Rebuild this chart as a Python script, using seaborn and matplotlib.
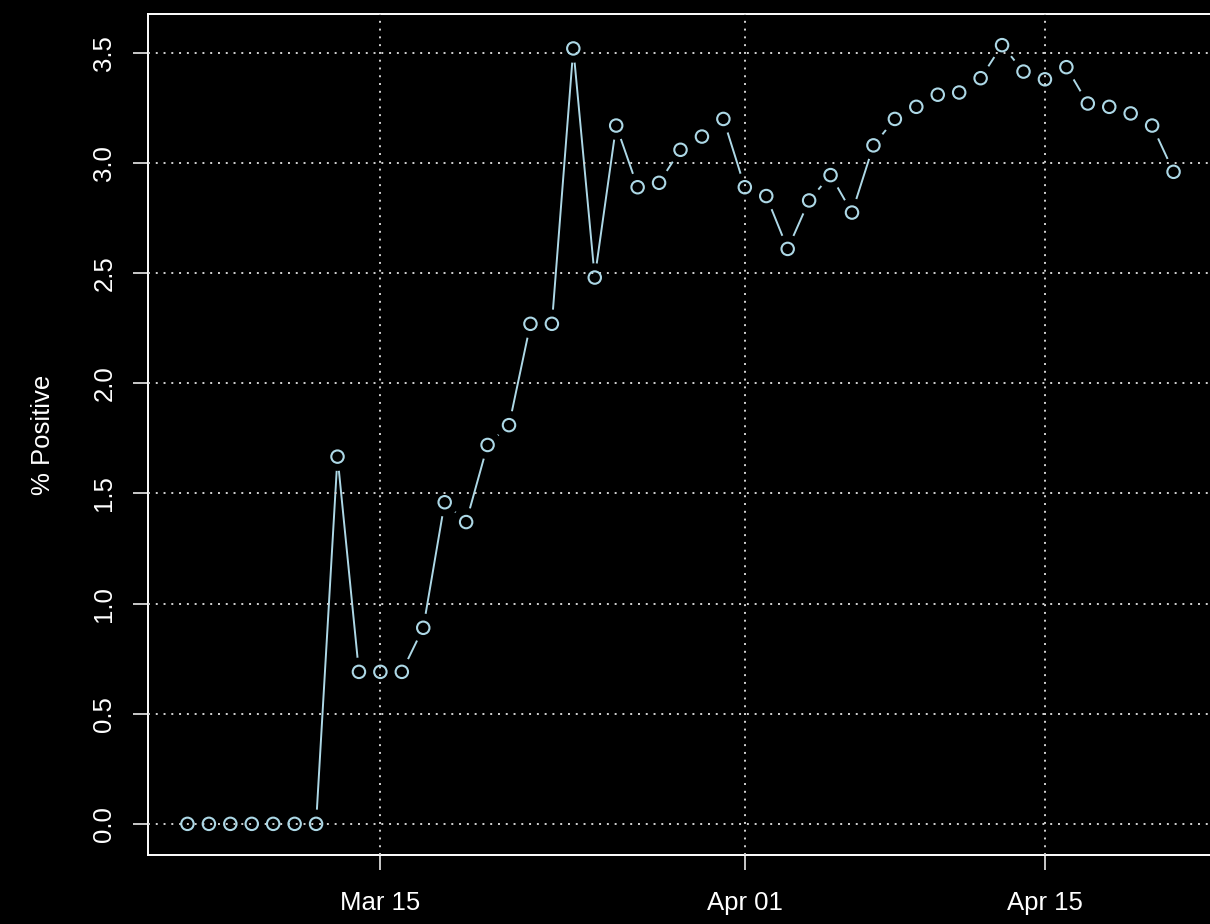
import numpy as np
import pandas as pd
import matplotlib
matplotlib.use("Agg")
import matplotlib.pyplot as plt
import matplotlib.dates as mdates
import seaborn as sns

# daily % positive, Mar 6 - Apr 21
start_date = "2020-03-06"
end_date = "2020-04-21"
pct_positive = [
    0.0, 0.0, 0.0, 0.0, 0.0, 0.0, 0.0,          # Mar 6 - Mar 12
    1.667, 0.69, 0.69, 0.69, 0.89, 1.46, 1.37,  # Mar 13 - Mar 19
    1.72, 1.81, 2.27, 2.27, 3.52, 2.48, 3.17,   # Mar 20 - Mar 26
    2.89, 2.91, 3.06, 3.12, 3.20,               # Mar 27 - Mar 31
    2.89, 2.85, 2.61, 2.83, 2.945, 2.775, 3.08, # Apr 1 - Apr 7
    3.20, 3.255, 3.31, 3.32, 3.385, 3.535,      # Apr 8 - Apr 13
    3.415, 3.38, 3.435, 3.27, 3.255, 3.225,     # Apr 14 - Apr 19
    3.17, 2.96,                                 # Apr 20 - Apr 21
]
x_ticks = ["2020-03-15", "2020-04-01", "2020-04-15"]
y_ticks = [0.0, 0.5, 1.0, 1.5, 2.0, 2.5, 3.0, 3.5]

df = pd.DataFrame({"date": pd.date_range(start_date, end_date, freq="D"),
                   "pct": pct_positive})

sns.set_style("dark")
plt.rcParams["font.family"] = ["Liberation Sans", "DejaVu Sans"]

fg = "white"
col = "lightblue"

fig = plt.figure(figsize=(12.1, 9.24), dpi=100, facecolor="black")
ax = fig.add_axes([148 / 1210, 69 / 924, 1065 / 1210, 841 / 924])
ax.set_facecolor("black")

# line, then black halos to cut gaps around points (like R type="b")
sns.lineplot(data=df, x="date", y="pct", ax=ax, color=col, linewidth=1.4,
             zorder=2)
sns.scatterplot(data=df, x="date", y="pct", ax=ax, s=420, color="black",
                edgecolor="none", zorder=2.2)
sns.scatterplot(data=df, x="date", y="pct", ax=ax, s=80, facecolor="none",
                edgecolor=col, linewidth=1.5, zorder=3)

# R-style 4% padding
x0, x1 = mdates.date2num(df["date"].iloc[0]), mdates.date2num(df["date"].iloc[-1])
pad = (x1 - x0) * 0.04
ax.set_xlim(x0 - pad, x1 + pad)
ymin, ymax = min(pct_positive), max(pct_positive)
ypad = (ymax - ymin) * 0.04
ax.set_ylim(ymin - ypad, ymax + ypad)

ax.set_xticks(pd.to_datetime(x_ticks))
ax.xaxis.set_major_formatter(mdates.DateFormatter("%b %d"))
ax.set_yticks(y_ticks)
ax.set_yticklabels([f"{v:.1f}" for v in y_ticks], rotation=90, va="center")

ax.set_axisbelow(False)
ax.grid(True, color="lightgray", linestyle=(0, (1, 3)), linewidth=1.4)

for s in ax.spines.values():
    s.set_visible(True)
    s.set_color(fg)
    s.set_linewidth(1.4)

ax.tick_params(axis="x", colors=fg, labelsize=18.5, length=10.8, width=1.1,
               pad=15, bottom=True, left=False)
ax.tick_params(axis="y", colors=fg, labelsize=18.5, length=10.8, width=1.1,
               pad=12, left=True, bottom=False)

ax.set_xlabel("")
ax.set_ylabel("% Positive", color=fg, fontsize=18.5)
ax.yaxis.set_label_coords(-0.087, 0.5)

fig.savefig("out.png", dpi=100, facecolor="black")
